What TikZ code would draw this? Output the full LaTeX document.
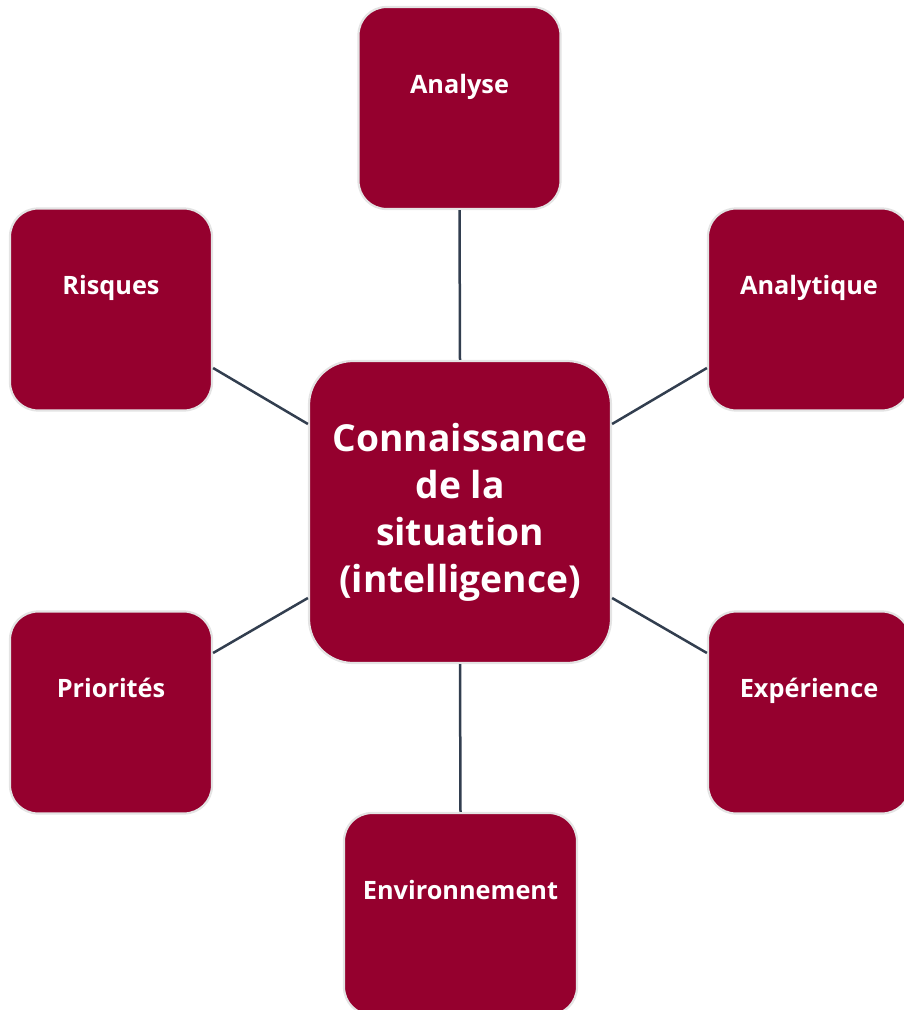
\documentclass[tikz,border=0pt]{standalone}
\usepackage{fontspec}
\setmainfont{Open Sans}
\definecolor{boxred}{HTML}{95002E}
\definecolor{boxedge}{HTML}{E4E4E4}
\definecolor{linkcol}{HTML}{323E4F}
\tikzset{
  box/.style={rectangle, rounded corners=28pt, fill=boxred, draw=boxedge, line width=2.2pt,
    minimum width=202pt, minimum height=202pt, inner sep=0pt, text=white,
    font=\fontsize{25.3}{30}\selectfont\bfseries},
  hub/.style={rectangle, rounded corners=44pt, fill=boxred, draw=boxedge, line width=2.2pt,
    minimum width=302pt, minimum height=302pt, inner sep=0pt, text=white, align=center,
    font=\fontsize{37.2}{47}\selectfont\bfseries},
  link/.style={draw=linkcol, line width=2.5pt}
}
\newcommand{\uptext}[1]{\raisebox{15pt}[0pt][0pt]{#1}}
\begin{document}
\begin{tikzpicture}[x=1pt,y=-1pt]
\useasboundingbox (0,0) rectangle (904,1010);
\clip (0,0) rectangle (904,1010);
\node[hub] (c) at (460,512) {Connaissance\\de la\\situation\\(intelligence)};
\node[box] (an) at (459.5,108) {\uptext{Analyse}};
\node[box] (ri) at (111,309.5) {\uptext{Risques}};
\node[box] (at) at (809,309.5) {\uptext{Analytique}};
\node[box] (pr) at (111,712.5) {\uptext{Priorités}};
\node[box] (ex) at (809,712.5) {\uptext{Expérience}};
\node[box, minimum width=233pt] (en) at (460.5,914) {\uptext{Environnement}};
\draw[link] (an.south) -- (c.north);
\draw[link] (en.north) -- (c.south);
\draw[link] (ri.east |- 0,368) -- (c.west |- 0,424);
\draw[link] (at.west |- 0,368) -- (c.east |- 0,424);
\draw[link] (pr.east |- 0,653) -- (c.west |- 0,598);
\draw[link] (ex.west |- 0,653) -- (c.east |- 0,598);
\end{tikzpicture}
\end{document}
